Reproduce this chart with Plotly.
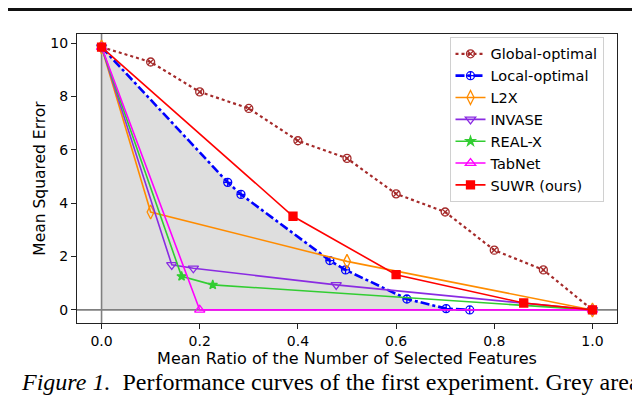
import plotly.graph_objects as go

# mean ratio of selected features (x) vs MSE (y)
glob_x = [0.0, 0.1, 0.2, 0.3, 0.4, 0.5, 0.6, 0.7, 0.8, 0.9, 1.0]
glob_y = [9.85, 9.29, 8.17, 7.55, 6.34, 5.68, 4.35, 3.67, 2.24, 1.50, 0.0]

local_x = [0.0, 0.257, 0.284, 0.465, 0.497, 0.622, 0.702, 0.75]
local_y = [9.85, 4.78, 4.33, 1.85, 1.50, 0.41, 0.05, 0.0]

l2x_x = [0.0, 0.1, 0.5, 1.0]
l2x_y = [9.85, 3.67, 1.82, 0.0]

invase_x = [0.0, 0.143, 0.187, 0.478, 1.0]
invase_y = [9.85, 1.69, 1.56, 0.94, 0.0]

realx_x = [0.0, 0.163, 0.2265, 1.0]
realx_y = [9.85, 1.26, 0.94, 0.0]

tabnet_x = [0.0, 0.2, 1.0]
tabnet_y = [9.85, 0.0, 0.0]

suwr_x = [0.0, 0.39, 0.6, 0.86, 1.0]
suwr_y = [9.85, 3.51, 1.32, 0.26, 0.0]

x_ticks = [0.0, 0.2, 0.4, 0.6, 0.8, 1.0]
y_ticks = [0, 2, 4, 6, 8, 10]

FONT = "DejaVu Sans"

fig = go.Figure()

# grey area under the local-optimal curve
fig.add_trace(go.Scatter(
    x=local_x, y=local_y, mode="lines", fill="tozeroy",
    fillcolor="rgba(128,128,128,0.26)", line=dict(width=0),
    showlegend=False, hoverinfo="skip",
))

series = [
    ("Global-optimal", glob_x, glob_y, "#a52a2a", "dot", 2.2, "circle-x-open", 8),
    ("Local-optimal", local_x, local_y, "#0000ff", "dashdot", 2.6, "circle-cross-open", 8),
    ("L2X", l2x_x, l2x_y, "#ff8c00", "solid", 1.6, "diamond-tall-open", 10),
    ("INVASE", invase_x, invase_y, "#8a2be2", "solid", 1.6, "triangle-down-open", 9),
    ("REAL-X", realx_x, realx_y, "#32cd32", "solid", 1.6, "star", 7),
    ("TabNet", tabnet_x, tabnet_y, "#ff00ff", "solid", 1.6, "triangle-up-open", 9),
    ("SUWR (ours)", suwr_x, suwr_y, "#ff0000", "solid", 1.6, "square", 8),
]
for name, xs, ys, col, dash, w, sym, sz in series:
    fig.add_trace(go.Scatter(
        x=xs, y=ys, name=name, mode="lines+markers",
        line=dict(color=col, dash=dash, width=w),
        marker=dict(symbol=sym, size=sz, color=col, line=dict(color=col, width=1.3)),
    ))

# grey reference lines at x=0 and y=0
fig.add_vline(x=0, line_color="#808080", line_width=1.6, layer="below")
fig.add_hline(y=0, line_color="#808080", line_width=1.6, layer="below")

# page rule on top
fig.add_shape(type="line", xref="paper", yref="paper",
              x0=-0.15, x1=1.05, y0=1.085, y1=1.085,
              line=dict(color="#111", width=3))

fig.add_annotation(
    xref="paper", yref="paper", x=-0.108, y=-0.205,
    xanchor="left", yanchor="middle", showarrow=False,
    text="<i>Figure 1.</i>  Performance curves of the first experiment. Grey area",
    font=dict(family="Liberation Serif", size=24, color="#000"),
)

axis_common = dict(
    showgrid=False, zeroline=False, showline=True, mirror=True,
    linecolor="#222", linewidth=1, ticks="outside", ticklen=5,
    tickcolor="#222", tickfont=dict(family=FONT, size=14, color="#000"),
)
fig.update_xaxes(range=[-0.05, 1.05], tickvals=x_ticks, tickformat=".1f",
                 title=dict(text="Mean Ratio of the Number of Selected Features",
                            font=dict(family=FONT, size=16, color="#000"), standoff=0),
                 **axis_common)
fig.update_yaxes(range=[-0.49, 10.34], tickvals=y_ticks,
                 title=dict(text="Mean Squared Error",
                            font=dict(family=FONT, size=15.5, color="#000"), standoff=0),
                 **axis_common)

# the page has an 8px body margin, so the figure is sized to fit the window
fig.update_layout(
    width=632, height=387,
    margin=dict(l=69, r=23, t=26, b=72),
    paper_bgcolor="white", plot_bgcolor="white",
    font=dict(family=FONT, color="#000"),
    legend=dict(
        x=0.975, y=0.99, xanchor="right", yanchor="top",
        bgcolor="white", bordercolor="#d0d0d0", borderwidth=1,
        font=dict(family=FONT, size=14.5, color="#000"),
        tracegroupgap=0,
    ),
)

fig.write_html("out.html")
